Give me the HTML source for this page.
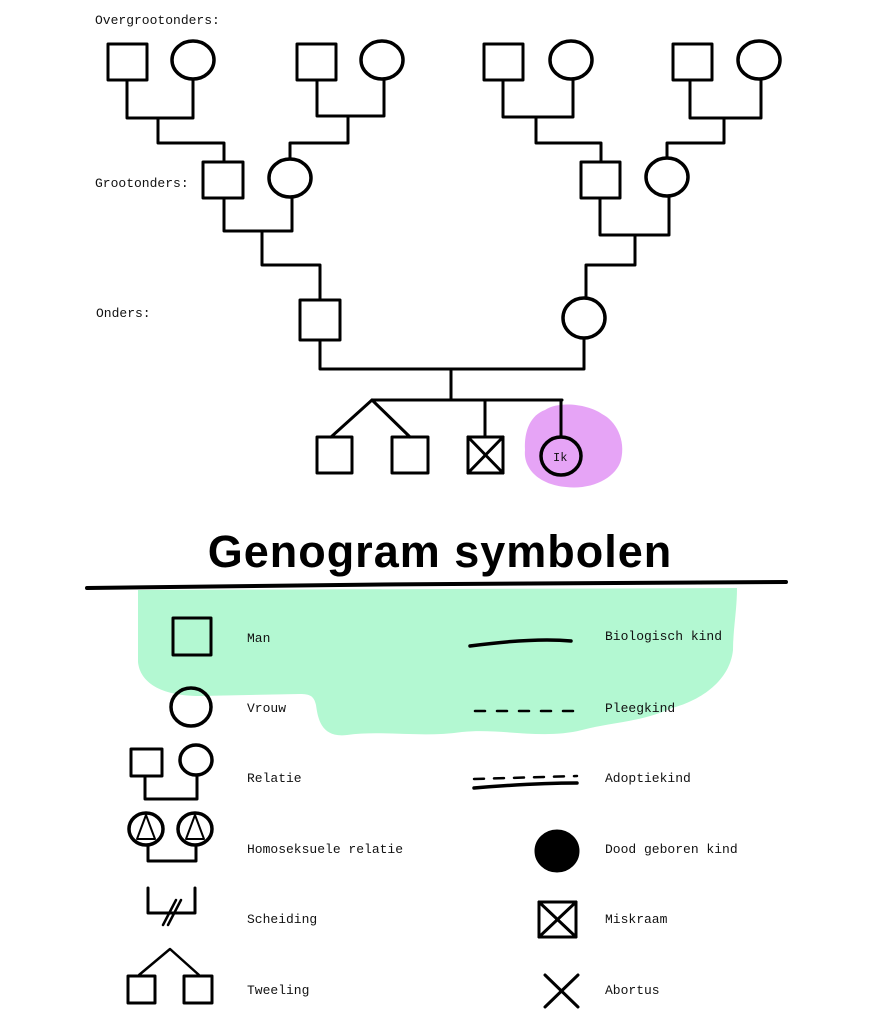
<!DOCTYPE html>
<html><head><meta charset="utf-8"><style>
html,body{margin:0;padding:0;background:#fff;}
svg{display:block;}
.t{font-family:"Liberation Mono",monospace;font-size:13px;fill:#111;}
.ti{font-family:"Liberation Sans",sans-serif;font-weight:bold;font-size:45px;fill:#000;letter-spacing:1px;}
</style></head><body>
<svg width="872" height="1024" viewBox="0 0 872 1024" xmlns="http://www.w3.org/2000/svg">
<rect width="872" height="1024" fill="#fff"/>
<!-- blobs -->
<path d="M545 410 C560 400,590 405,602 414 C616 421,626 440,621 460 C616 478,592 490,566 487 C541 485,523 470,525 450 C524 430,531 415,545 410 Z" fill="#e6a4f6"/>
<path d="M138 590 L737 588 C737 610,733 630,733 650 C730 680,702 700,672 708 C642 722,612 722,582 730 C542 740,502 728,462 732 C422 738,382 730,347 735 C322 738,318 720,316 705 C314 696,310 694,300 694 L200 696 C160 696,140 682,138 662 Z" fill="#b3f8d2"/>

<g fill="none" stroke="#000" stroke-width="3" stroke-linejoin="round" stroke-linecap="round">
<!-- great-grandparents -->
<rect x="108" y="44" width="39" height="36"/>
<ellipse cx="193" cy="60" rx="21" ry="19" stroke-width="3.5"/>
<rect x="297" y="44" width="39" height="36"/>
<ellipse cx="382" cy="60" rx="21" ry="19" stroke-width="3.5"/>
<rect x="484" y="44" width="39" height="36"/>
<ellipse cx="571" cy="60" rx="21" ry="19" stroke-width="3.5"/>
<rect x="673" y="44" width="39" height="36"/>
<ellipse cx="759" cy="60" rx="21" ry="19" stroke-width="3.5"/>
<!-- connectors gen1 -> gen2 -->
<polyline points="127,80 127,118 193,118 193,79"/>
<polyline points="158,118 158,143 224,143 224,162"/>
<polyline points="317,80 317,116 384,116 384,79"/>
<polyline points="348,116 348,143 290,143 290,159"/>
<polyline points="503,80 503,117 573,117 573,79"/>
<polyline points="536,117 536,143 601,143 601,162"/>
<polyline points="690,80 690,118 761,118 761,79"/>
<polyline points="724,118 724,143 667,143 667,157"/>
<!-- grandparents -->
<rect x="203" y="162" width="40" height="36"/>
<ellipse cx="290" cy="178" rx="21" ry="19" stroke-width="3.5"/>
<rect x="581" y="162" width="39" height="36"/>
<ellipse cx="667" cy="177" rx="21" ry="19" stroke-width="3.5"/>
<polyline points="224,198 224,231 292,231 292,197"/>
<polyline points="262,231 262,265 320,265 320,300"/>
<polyline points="600,198 600,235 669,235 669,196"/>
<polyline points="635,235 635,265 586,265 586,298"/>
<!-- parents -->
<rect x="300" y="300" width="40" height="40"/>
<ellipse cx="584" cy="318" rx="21" ry="20" stroke-width="3.5"/>
<polyline points="320,340 320,369 584,369 584,338"/>
<line x1="451" y1="369" x2="451" y2="400"/>
<line x1="372" y1="400" x2="562" y2="400"/>
<polyline points="331,437 372,400 410,437"/>
<line x1="485" y1="400" x2="485" y2="437"/>
<line x1="561" y1="400" x2="561" y2="437"/>
<!-- children -->
<rect x="317" y="437" width="35" height="36"/>
<rect x="392" y="437" width="36" height="36"/>
<rect x="468" y="437" width="35" height="36"/>
<line x1="468" y1="437" x2="503" y2="473"/>
<line x1="503" y1="437" x2="468" y2="473"/>
<ellipse cx="561" cy="456" rx="20" ry="19" stroke-width="3.5"/>

<!-- title underline -->
<path d="M87 588 C300 585,600 582,786 582" stroke-width="4"/>

<!-- legend left -->
<rect x="173" y="618" width="38" height="37"/>
<ellipse cx="191" cy="707" rx="20" ry="19" stroke-width="3.5"/>
<rect x="131" y="749" width="31" height="27"/>
<ellipse cx="196" cy="760" rx="16" ry="15" stroke-width="3.5"/>
<polyline points="145,776 145,799 197,799 197,775"/>
<ellipse cx="146" cy="829" rx="17" ry="16" stroke-width="3.5"/>
<ellipse cx="195" cy="829" rx="17" ry="16" stroke-width="3.5"/>
<path d="M146 815 L137 839 L155 839 Z" stroke-width="2"/>
<path d="M195 815 L186 839 L204 839 Z" stroke-width="2"/>
<polyline points="148,845 148,861 196,861 196,845"/>
<polyline points="148,888 148,913 195,913 195,888"/>
<line x1="163" y1="925" x2="176" y2="900" stroke-width="2.5"/>
<line x1="168" y1="925" x2="181" y2="900" stroke-width="2.5"/>
<polyline points="139,975 170,949 199,975" stroke-width="2.5"/>
<rect x="128" y="976" width="27" height="27"/>
<rect x="184" y="976" width="28" height="27"/>

<!-- legend right -->
<path d="M470 646 C500 642,540 638,571 641" stroke-width="3.5"/>
<path d="M475 711 H581" stroke-dasharray="10 12" stroke-width="2.5"/>
<path d="M474 779 L577 776" stroke-dasharray="10 10" stroke-width="2.5"/>
<path d="M474 788 C510 785,550 783,577 783" stroke-width="3.5"/>
<ellipse cx="557" cy="851" rx="21" ry="20" fill="#000"/>
<rect x="539" y="902" width="37" height="35"/>
<line x1="539" y1="902" x2="576" y2="937"/>
<line x1="576" y1="902" x2="539" y2="937"/>
<line x1="545" y1="975" x2="578" y2="1007"/>
<line x1="578" y1="975" x2="545" y2="1007"/>
</g>

<!-- labels -->
<text class="t" x="95" y="24">Overgrootonders:</text>
<text class="t" x="95" y="187">Grootonders:</text>
<text class="t" x="96" y="317">Onders:</text>
<text class="t" x="553" y="461" style="font-size:12px">Ik</text>

<text class="ti" x="440" y="567" text-anchor="middle">Genogram symbolen</text>

<text class="t" x="247" y="642">Man</text>
<text class="t" x="247" y="712">Vrouw</text>
<text class="t" x="247" y="782">Relatie</text>
<text class="t" x="247" y="853">Homoseksuele relatie</text>
<text class="t" x="247" y="923">Scheiding</text>
<text class="t" x="247" y="994">Tweeling</text>

<text class="t" x="605" y="640">Biologisch kind</text>
<text class="t" x="605" y="712">Pleegkind</text>
<text class="t" x="605" y="782">Adoptiekind</text>
<text class="t" x="605" y="853">Dood geboren kind</text>
<text class="t" x="605" y="923">Miskraam</text>
<text class="t" x="605" y="994">Abortus</text>
</svg>
</body></html>
